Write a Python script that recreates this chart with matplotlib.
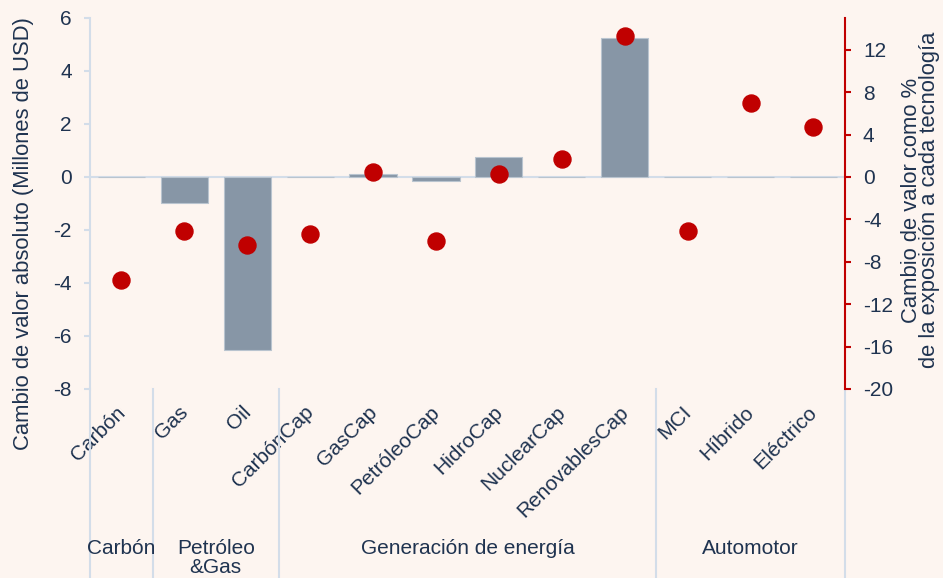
import numpy as np
from matplotlib import pyplot as plt
from matplotlib import transforms

# technologies on the x axis
categories = ["Carbón", "Gas", "Oil", "CarbónCap", "GasCap", "PetróleoCap",
              "HidroCap", "NuclearCap", "RenovablesCap", "MCI", "Híbrido", "Eléctrico"]
# absolute value change (million USD), left axis
abs_change = [-0.02, -0.97, -6.52, -0.02, 0.11, -0.15, 0.75, 0.0, 5.23, -0.02, 0.0, 0.0]
# change as % of exposure, right axis
pct_change = [-9.7, -5.1, -6.4, -5.4, 0.5, -6.05, 0.3, 1.7, 13.3, -5.1, 7.0, 4.75]
# sector groups: (label, first index, last index)
groups = [("Carbón", 0, 0), ("Petróleo\n&Gas", 1, 2),
          ("Generación de energía", 3, 8), ("Automotor", 9, 11)]

bg = "#fdf5f0"
txt = "#1f3350"
grid_c = "#d3dde9"
red = "#c00000"

plt.rcParams['font.family'] = ['Liberation Sans', 'DejaVu Sans']
plt.rcParams['font.size'] = 15
plt.rcParams['axes.unicode_minus'] = False

fig = plt.figure(figsize=(9.43, 5.78), dpi=100, facecolor=bg)
ax = fig.add_axes([0.0954, 0.327, 0.8006, 0.642])
ax.set_facecolor(bg)
x = np.arange(len(categories))

ax.axhline(0, color=grid_c, lw=1.5, zorder=1)
ax.bar(x, abs_change, width=0.75, color="#8796a6", edgecolor="#b9c4cf", lw=0.8, zorder=2)
ax.set_ylim(-8, 6)
ax.set_yticks(range(-8, 7, 2))
ax.set_xlim(-0.5, len(categories) - 0.5)
ax.set_xticks(x)
ax.set_xticklabels(categories, rotation=45, ha="right", rotation_mode="anchor")
ax.tick_params(axis="x", length=0, pad=7, colors=txt)
ax.tick_params(axis="y", length=4, width=1.5, color=grid_c, pad=9, labelcolor=txt)
# nudge the slanted labels a little left and down
shift = transforms.ScaledTranslation(-6 / 100, -4 / 100, fig.dpi_scale_trans)
for lbl in ax.get_xticklabels():
    lbl.set_transform(lbl.get_transform() + shift)
for s in ["top", "right", "bottom"]:
    ax.spines[s].set_visible(False)
ax.spines["left"].set_color(grid_c)
ax.spines["left"].set_linewidth(1.5)
ax.set_ylabel("Cambio de valor absoluto (Millones de USD)", color=txt, fontsize=15.8)
ax.yaxis.set_label_coords(-0.074, 0.418)

ax2 = ax.twinx()
ax2.scatter(x, pct_change, s=150, color=red, zorder=3, clip_on=False)
ax2.set_ylim(-20, 15)
ax2.set_yticks(range(-20, 13, 4))
ax2.tick_params(axis="y", length=4, width=1.5, color=red, pad=9, labelcolor=txt)
for s in ["top", "left", "bottom"]:
    ax2.spines[s].set_visible(False)
ax2.spines["right"].set_color(red)
ax2.spines["right"].set_linewidth(1.5)
ax2.set_ylabel("Cambio de valor como %\nde la exposición a cada tecnología",
               color=txt, fontsize=15.8, linespacing=0.85)
ax2.yaxis.set_label_coords(1.074, 0.509)

# group separators and group names below the tick labels
trans = transforms.blended_transform_factory(ax.transData, ax.transAxes)
bottom = -389 / 371
for i, (name, lo, hi) in enumerate(groups):
    ax.plot([lo - 0.5, lo - 0.5], [0, bottom], transform=trans, color=grid_c,
            lw=1.5, clip_on=False)
    ax.text((lo + hi) / 2, -0.405, name, transform=trans, ha="center", va="top",
            color=txt, linespacing=0.95)
ax.plot([len(categories) - 0.5] * 2, [0, bottom], transform=trans, color=grid_c,
        lw=1.5, clip_on=False)

fig.savefig("out.png", dpi=100, facecolor=bg)
